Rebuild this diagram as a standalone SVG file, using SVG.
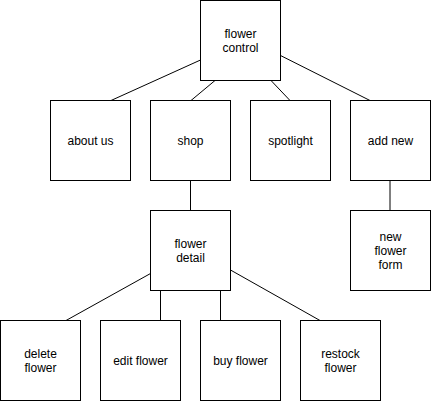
<svg xmlns="http://www.w3.org/2000/svg" width="431" height="401" viewBox="0 0 431 401">
<style>
.box{fill:#ffffff;stroke:#000000;stroke-width:1}
.lbl{font-family:"Liberation Sans",Arial,Helvetica,sans-serif;font-size:12px;fill:#000000;text-anchor:middle}
.edge{stroke:#000000;stroke-width:1;fill:none}
</style>
<rect x="0" y="0" width="431" height="401" fill="#ffffff"/>
<g id="connectors">
<line class="edge" x1="200.5" y1="60" x2="111" y2="100.5"/>
<line class="edge" x1="215" y1="80.5" x2="191" y2="100.5"/>
<line class="edge" x1="271" y1="80.5" x2="290" y2="100.5"/>
<line class="edge" x1="280.5" y1="55.5" x2="370" y2="100.5"/>
<line class="edge" x1="190.5" y1="180.5" x2="190.5" y2="210.5"/>
<line class="edge" x1="390" y1="180.5" x2="390" y2="210.5"/>
<line class="edge" x1="150.5" y1="273.5" x2="66" y2="320.5"/>
<line class="edge" x1="160.5" y1="290.5" x2="160.5" y2="320.5"/>
<line class="edge" x1="220.5" y1="290.5" x2="220.5" y2="320.5"/>
<line class="edge" x1="230.5" y1="270" x2="320" y2="320.5"/>
</g>
<g id="flower-control"><rect class="box" x="200.5" y="0.5" width="80" height="80"/><text class="lbl" x="240.5" y="37.5">flower</text><text class="lbl" x="240.5" y="51.5">control</text></g>
<g id="about-us"><rect class="box" x="50.5" y="100.5" width="80" height="80"/><text class="lbl" x="90.5" y="144.5">about us</text></g>
<g id="shop"><rect class="box" x="150.5" y="100.5" width="80" height="80"/><text class="lbl" x="190.5" y="144.5">shop</text></g>
<g id="spotlight"><rect class="box" x="250.5" y="100.5" width="80" height="80"/><text class="lbl" x="290.5" y="144.5">spotlight</text></g>
<g id="add-new"><rect class="box" x="350.5" y="100.5" width="80" height="80"/><text class="lbl" x="390.5" y="144.5">add new</text></g>
<g id="flower-detail"><rect class="box" x="150.5" y="210.5" width="80" height="80"/><text class="lbl" x="190.5" y="247.5">flower</text><text class="lbl" x="190.5" y="261.5">detail</text></g>
<g id="new-flower-form"><rect class="box" x="350.5" y="210.5" width="80" height="80"/><text class="lbl" x="390.5" y="240.5">new</text><text class="lbl" x="390.5" y="254.5">flower</text><text class="lbl" x="390.5" y="268.5">form</text></g>
<g id="delete-flower"><rect class="box" x="0.5" y="320.5" width="80" height="80"/><text class="lbl" x="40.5" y="357.5">delete</text><text class="lbl" x="40.5" y="371.5">flower</text></g>
<g id="edit-flower"><rect class="box" x="100.5" y="320.5" width="80" height="80"/><text class="lbl" x="140.5" y="364.5">edit flower</text></g>
<g id="buy-flower"><rect class="box" x="200.5" y="320.5" width="80" height="80"/><text class="lbl" x="240.5" y="364.5">buy flower</text></g>
<g id="restock-flower"><rect class="box" x="300.5" y="320.5" width="80" height="80"/><text class="lbl" x="340.5" y="357.5">restock</text><text class="lbl" x="340.5" y="371.5">flower</text></g>
</svg>
